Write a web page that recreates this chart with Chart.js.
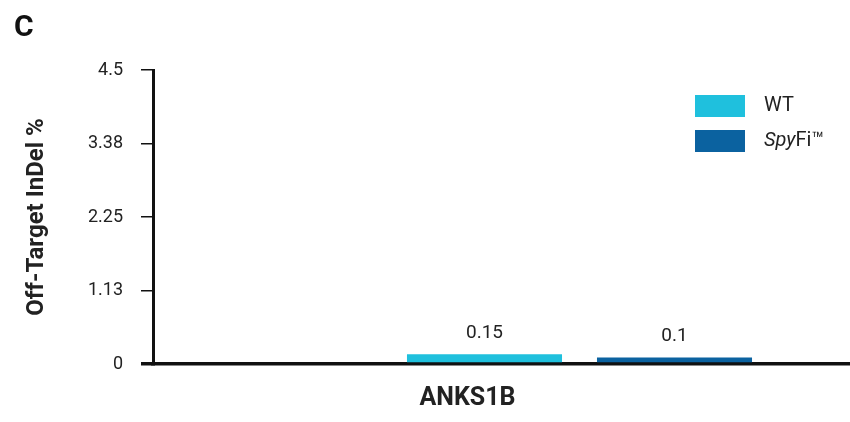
<!DOCTYPE html>
<html>
<head>
<meta charset="utf-8">
<script src="https://cdn.jsdelivr.net/npm/chart.js@4"></script>
<style>
html, body { margin: 0; padding: 0; background: #fff; overflow: hidden; }
/* the plot runs on past the right edge of the window, like the cropped original */
#wrap { width: 1020px; height: 450px; }
</style>
</head>
<body>
<div id="wrap"><canvas id="offTargetChart"></canvas></div>
<script>
// Chart data
const categories = ['ANKS1B'];
const wtValues = [0.15];
const spyfiValues = [0.1];
const yTickLabels = ['0', '1.13', '2.25', '3.38', '4.5'];
const seriesNames = ['WT', 'SpyFi'];

const wtColor = '#1fc0dd';
const spyfiColor = '#0b62a0';
const textColor = '#222';
const axisColor = '#111';

// Draws the value above every bar
const valueLabels = {
    id: 'valueLabels',
    afterDatasetsDraw(chart) {
        const ctx = chart.ctx;
        ctx.save();
        ctx.font = '19px Roboto';
        ctx.fillStyle = textColor;
        ctx.textAlign = 'center';
        ctx.textBaseline = 'middle';
        chart.data.datasets.forEach((ds, i) => {
            chart.getDatasetMeta(i).data.forEach((bar, j) => {
                ctx.fillText(String(ds.data[j]), bar.x, bar.y - 21);
            });
        });
        ctx.restore();
    }
};

// Legend in the top right corner (SpyFi has italic "Spy")
const boxLegend = {
    id: 'boxLegend',
    afterDraw(chart) {
        const ctx = chart.ctx;
        ctx.save();
        ctx.textBaseline = 'middle';
        chart.data.datasets.forEach((ds, i) => {
            const top = 95 + i * 35;
            ctx.fillStyle = ds.backgroundColor;
            ctx.fillRect(695, top, 50, 22);
            ctx.fillStyle = textColor;
            const ty = top + 11;
            if (ds.label === 'SpyFi') {
                ctx.font = 'italic 20px Roboto';
                ctx.fillText('Spy', 764, ty);
                let x = 764 + ctx.measureText('Spy').width;
                ctx.font = '20px Roboto';
                ctx.fillText('Fi', x, ty);
                x += ctx.measureText('Fi').width;
                ctx.fillText('\u2122', x, ty);
            } else {
                ctx.font = '20px Roboto';
                ctx.fillText(ds.label, 764, ty);
            }
        });
        ctx.restore();
    }
};

const ctxOff = document.getElementById('offTargetChart').getContext('2d');
const offTargetChart = new Chart(ctxOff, {
    type: 'bar',
    data: {
        labels: categories,
        datasets: [{
            label: seriesNames[0],
            data: wtValues,
            backgroundColor: wtColor,
            categoryPercentage: 0.4455,
            barPercentage: 0.816
        }, {
            label: seriesNames[1],
            data: spyfiValues,
            backgroundColor: spyfiColor,
            categoryPercentage: 0.4455,
            barPercentage: 0.816
        }]
    },
    options: {
        responsive: true,
        maintainAspectRatio: false,
        animation: false,
        layout: {
            padding: { left: 14, top: 4, right: 14, bottom: 16 }
        },
        plugins: {
            legend: { display: false },
            tooltip: { enabled: false },
            title: {
                display: true,
                text: 'C',
                align: 'start',
                color: '#111',
                font: { family: 'Roboto', weight: 'bold', size: 30 },
                padding: { top: 6, bottom: 24 }
            }
        },
        scales: {
            x: {
                z: 1,
                grid: { drawOnChartArea: false, drawTicks: false },
                border: { color: axisColor, width: 3.5 },
                ticks: {
                    color: textColor,
                    labelOffset: -112,
                    padding: 20,
                    font: { family: 'Roboto', weight: 'bold', size: 25 }
                }
            },
            y: {
                z: 1,
                min: 0,
                max: 4.5,
                afterFit: (scale) => { scale.width = 139; },
                grid: {
                    drawOnChartArea: false,
                    tickLength: 12,
                    color: axisColor,
                    lineWidth: (c) => c.index === 0 ? 3.5 : 1.5
                },
                border: { color: axisColor, width: 3 },
                ticks: {
                    stepSize: 1.125,
                    padding: 18,
                    color: textColor,
                    font: { family: 'Roboto', size: 18 },
                    callback: (v, i) => yTickLabels[i]
                },
                title: {
                    display: true,
                    text: 'Off-Target InDel %',
                    color: textColor,
                    padding: { top: 9, bottom: 0 },
                    font: { family: 'Roboto', weight: 'bold', size: 24 }
                }
            }
        }
    },
    plugins: [valueLabels, boxLegend]
});
</script>
</body>
</html>
